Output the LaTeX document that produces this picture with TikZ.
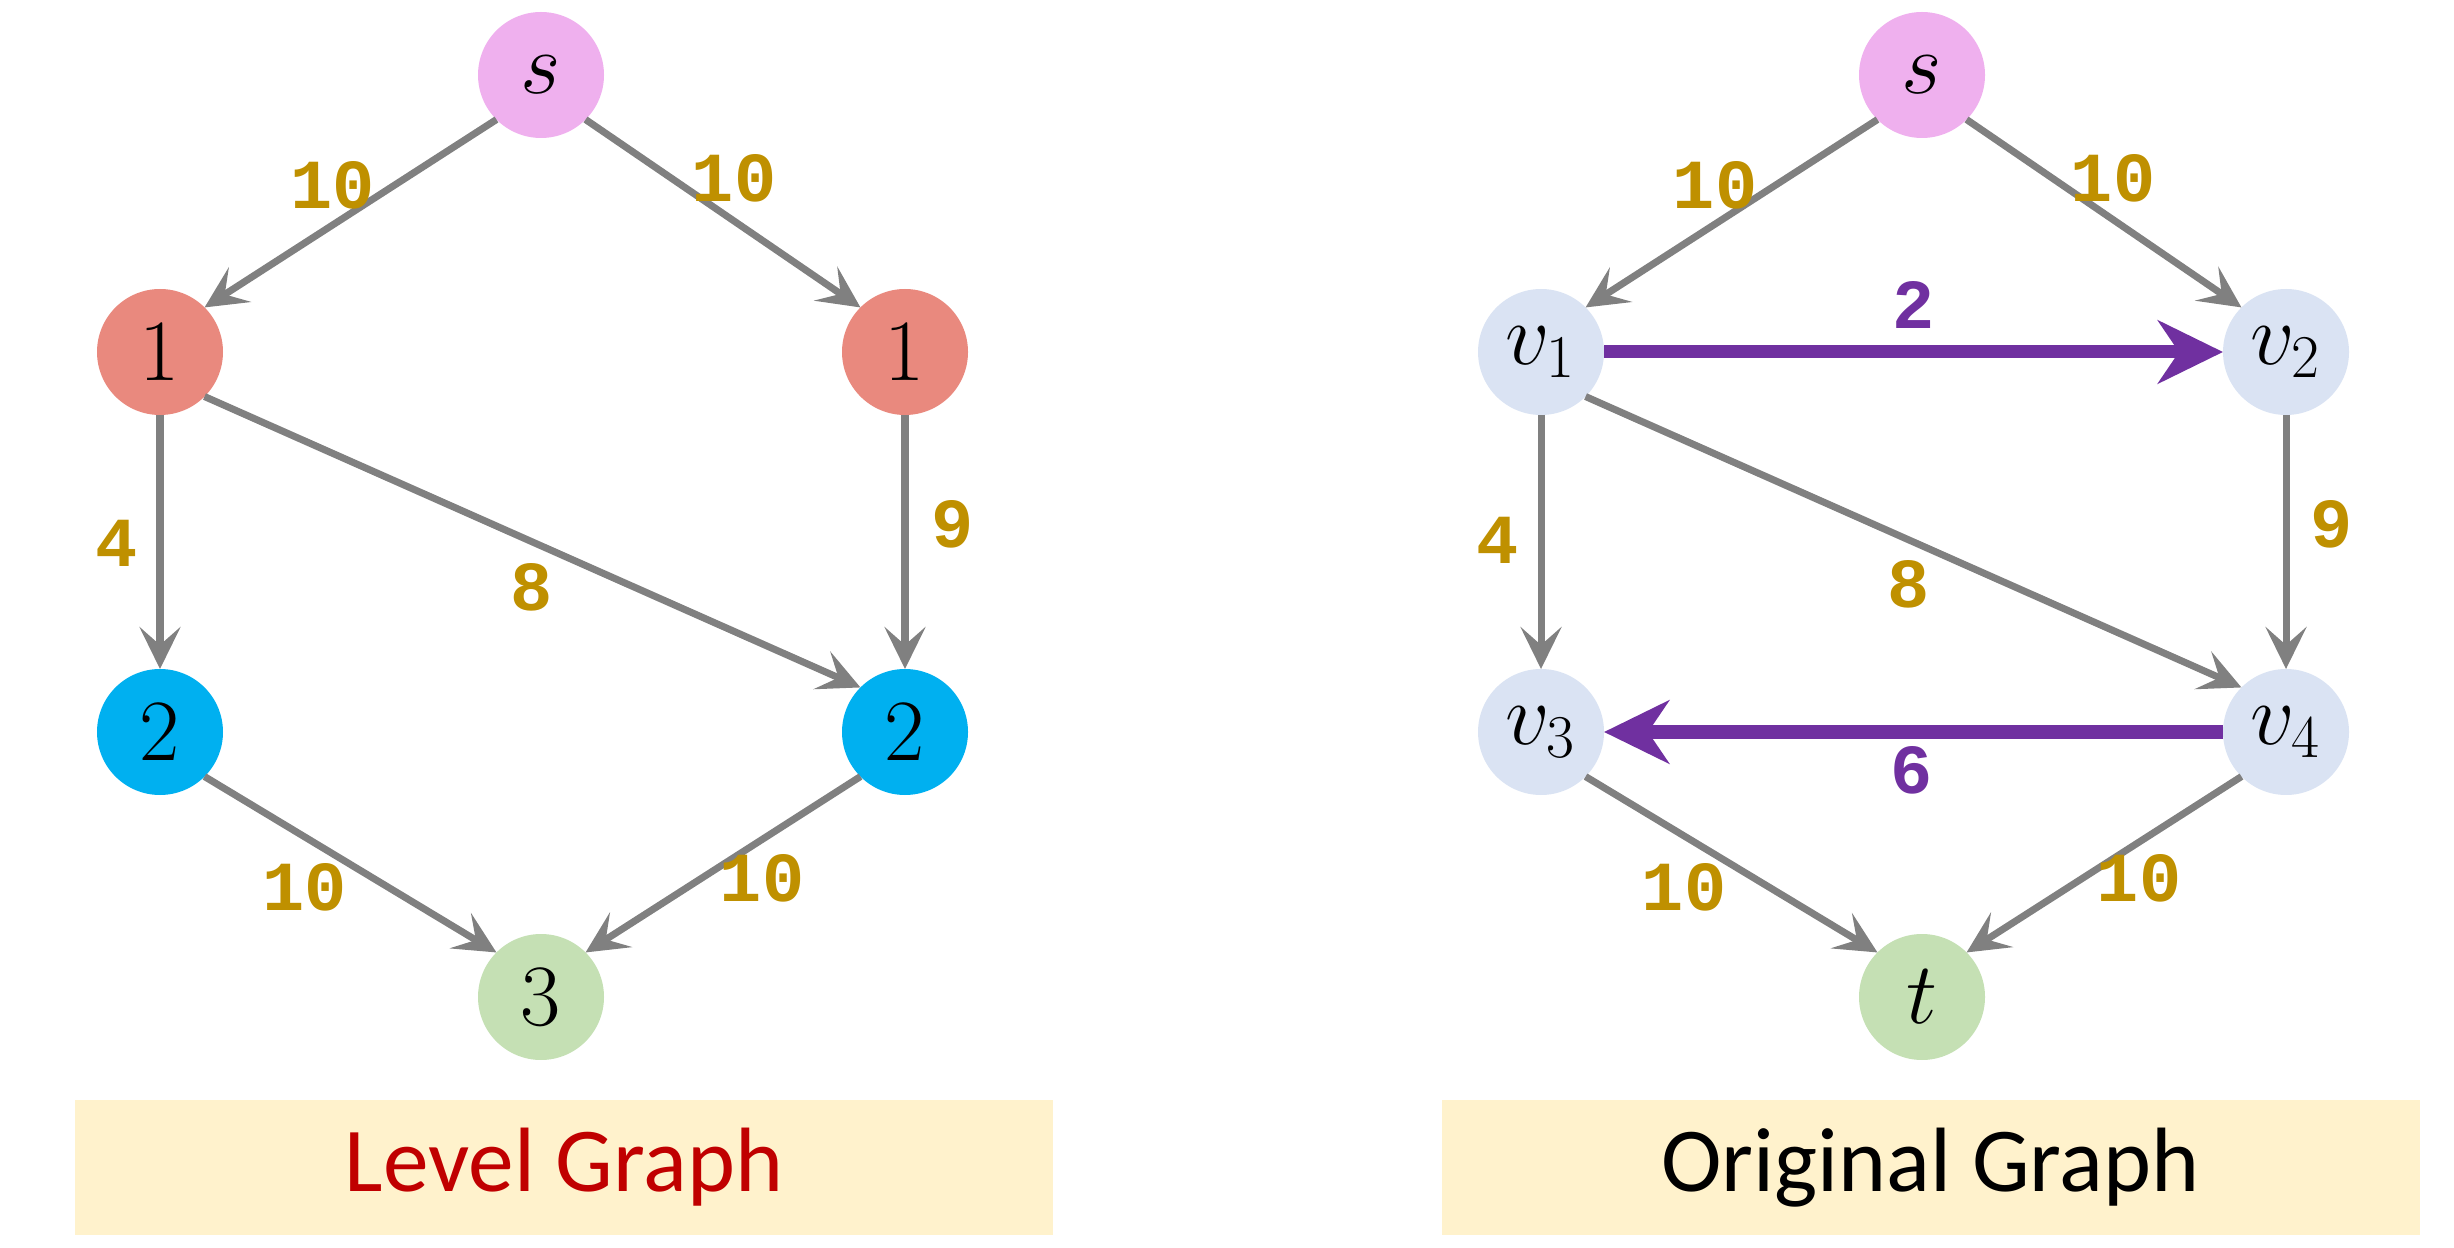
\documentclass[tikz,border=0pt]{standalone}
\usepackage{fontspec}
\setmainfont{Carlito}
\newfontfamily\wtfont{Liberation Mono}
\usetikzlibrary{arrows.meta}

\definecolor{edgegray}{HTML}{808080}
\definecolor{wtgold}{HTML}{BF9000}
\definecolor{flowpurple}{HTML}{7030A0}
\definecolor{srcpink}{HTML}{EFB0EE}
\definecolor{lvlone}{HTML}{E9897E}
\definecolor{lvltwo}{HTML}{00B0F0}
\definecolor{sinkgreen}{HTML}{C5E0B4}
\definecolor{vtxblue}{HTML}{DAE3F3}
\definecolor{boxyellow}{HTML}{FFF2CC}
\definecolor{titlered}{HTML}{C00000}

\tikzset{
  vtx/.style={circle, minimum size=1.26cm, inner sep=0pt, outer sep=0pt,
    font=\fontsize{24}{28}\selectfont},
  wt/.style={text=wtgold, font=\wtfont\bfseries\fontsize{20}{24}\selectfont},
  fwt/.style={text=flowpurple, font=\wtfont\bfseries\fontsize{20}{24}\selectfont},
  arc/.style={draw=edgegray, line width=2pt,
    -{Stealth[length=4.2mm,width=4.1mm,inset=1.8mm]}},
  push/.style={draw=flowpurple, line width=3.7pt,
    -{Stealth[length=6.5mm,width=6.3mm,inset=2.1mm]}},
  titlebox/.style={fill=boxyellow, minimum width=9.78cm, minimum height=1.35cm,
    inner sep=0pt, font=\fontsize{26}{30}\selectfont}
}

\begin{document}
\begin{tikzpicture}
  \useasboundingbox (0,0) rectangle (24.54,-12.48);

  % level graph
  \node[vtx, fill=srcpink]   (ls)  at (5.41,-0.75) {$s$};
  \node[vtx, fill=lvlone]    (la)  at (1.60,-3.52) {$1$};
  \node[vtx, fill=lvlone]    (lb)  at (9.05,-3.52) {$1$};
  \node[vtx, fill=lvltwo]    (lc)  at (1.60,-7.32) {$2$};
  \node[vtx, fill=lvltwo]    (ld)  at (9.05,-7.32) {$2$};
  \node[vtx, fill=sinkgreen] (lt)  at (5.41,-9.97) {$3$};

  \draw[arc] (ls.south west) -- (la.north east);
  \draw[arc] (ls.south east) -- (lb.north west);
  \draw[arc] (la.south) -- (lc.north);
  \draw[arc] (la.south east) -- (ld.north west);
  \draw[arc] (lb.south) -- (ld.north);
  \draw[arc] (lc.south east) -- (lt.north west);
  \draw[arc] (ld.south west) -- (lt.north east);

  \node[wt] (lw1) at (3.33,-1.85) {10};
  \node[wt] (lw2) at (7.34,-1.78) {10};
  \node[wt] (lw3) at (1.17,-5.43) {4};
  \node[wt] (lw4) at (5.32,-5.87) {8};
  \node[wt] (lw5) at (9.53,-5.24) {9};
  \node[wt] (lw6) at (3.05,-8.87) {10};
  \node[wt] (lw7) at (7.62,-8.78) {10};

  \node[titlebox, text=titlered] (ltitle) at (5.64,-11.675) {Level Graph};

  % original graph
  \begin{scope}[xshift=13.81cm]
    \node[vtx, fill=srcpink]   (os) at (5.41,-0.75) {$s$};
    \node[vtx, fill=vtxblue]   (v1) at (1.60,-3.52) {$v_1$};
    \node[vtx, fill=vtxblue]   (v2) at (9.05,-3.52) {$v_2$};
    \node[vtx, fill=vtxblue]   (v3) at (1.60,-7.32) {$v_3$};
    \node[vtx, fill=vtxblue]   (v4) at (9.05,-7.32) {$v_4$};
    \node[vtx, fill=sinkgreen] (ot) at (5.41,-9.97) {$t$};

    \draw[arc] (os.south west) -- (v1.north east);
    \draw[arc] (os.south east) -- (v2.north west);
    \draw[arc] (v1.south) -- (v3.north);
    \draw[arc] (v1.south east) -- (v4.north west);
    \draw[arc] (v2.south) -- (v4.north);
    \draw[arc] (v3.south east) -- (ot.north west);
    \draw[arc] (v4.south west) -- (ot.north east);
    \draw[push] (v1.east) -- (v2.west);
    \draw[push] (v4.west) -- (v3.east);

    \node[wt] (ow1) at (3.34,-1.85) {10};
    \node[wt] (ow2) at (7.32,-1.78) {10};
    \node[wt] (ow3) at (1.17,-5.40) {4};
    \node[wt] (ow4) at (5.28,-5.84) {8};
    \node[wt] (ow5) at (9.51,-5.24) {9};
    \node[wt] (ow6) at (3.03,-8.87) {10};
    \node[wt] (ow7) at (7.58,-8.78) {10};
    \node[fwt] (ow8) at (5.33,-3.05) {2};
    \node[fwt] (ow9) at (5.31,-7.70) {6};
  \end{scope}

  \node[titlebox] (otitle) at (19.305,-11.675) {Original Graph};
\end{tikzpicture}
\end{document}
